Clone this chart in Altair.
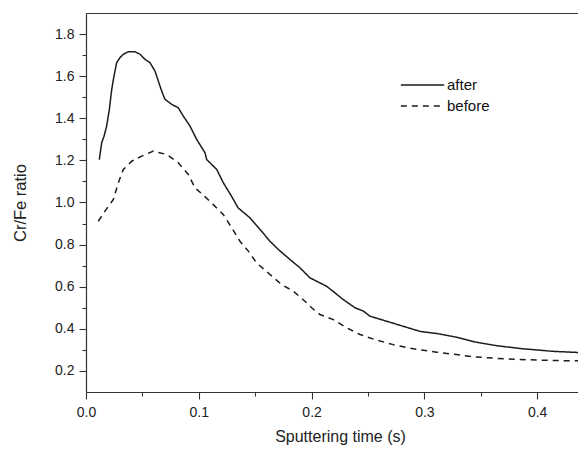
import altair as alt
import pandas as pd

# "after" curve (Cr/Fe ratio vs sputtering time)
after_x = [0.0118, 0.0139, 0.0160, 0.0183, 0.0207, 0.0228, 0.0248, 0.0272, 0.0301, 0.0331,
           0.0375, 0.0434, 0.0479, 0.0523, 0.0567, 0.0612, 0.0641, 0.0671, 0.0700, 0.0760,
           0.0818, 0.0863, 0.0922, 0.0981, 0.1055, 0.1070, 0.1159, 0.1217, 0.1290, 0.1348,
           0.1454, 0.1543, 0.1631, 0.1705, 0.1809, 0.1897, 0.1986, 0.2045, 0.2134, 0.2207,
           0.2281, 0.2385, 0.2459, 0.2518, 0.2666, 0.2813, 0.2961, 0.3120, 0.3286, 0.3464,
           0.3640, 0.3877, 0.4143, 0.4430]
after_y = [1.204, 1.284, 1.315, 1.363, 1.442, 1.537, 1.600, 1.664, 1.688, 1.704,
           1.716, 1.716, 1.704, 1.680, 1.664, 1.624, 1.577, 1.529, 1.490, 1.466,
           1.450, 1.410, 1.363, 1.300, 1.236, 1.204, 1.157, 1.094, 1.030, 0.975,
           0.927, 0.872, 0.816, 0.777, 0.729, 0.690, 0.642, 0.626, 0.602, 0.571,
           0.539, 0.500, 0.484, 0.460, 0.436, 0.412, 0.388, 0.377, 0.360, 0.336,
           0.320, 0.305, 0.293, 0.286]

# "before" curve
before_x = [0.0109, 0.0168, 0.0242, 0.0287, 0.0331, 0.0405, 0.0494, 0.0597, 0.0715, 0.0818,
            0.0907, 0.0966, 0.1040, 0.1129, 0.1217, 0.1292, 0.1365, 0.1439, 0.1513, 0.1631,
            0.1735, 0.1838, 0.1941, 0.2001, 0.2074, 0.2193, 0.2311, 0.2429, 0.2562, 0.2724,
            0.2902, 0.3109, 0.3286, 0.3434, 0.3730, 0.4025, 0.4320, 0.4430]
before_y = [0.911, 0.959, 1.014, 1.094, 1.157, 1.196, 1.220, 1.244, 1.228, 1.189,
            1.133, 1.070, 1.035, 0.990, 0.943, 0.880, 0.816, 0.769, 0.713, 0.658,
            0.610, 0.579, 0.531, 0.500, 0.468, 0.444, 0.405, 0.373, 0.349, 0.325,
            0.305, 0.289, 0.278, 0.267, 0.257, 0.251, 0.248, 0.250]

series_names = ["after", "before"]
x_ticks = [0.0, 0.05, 0.1, 0.15, 0.2, 0.25, 0.3, 0.35, 0.4]
y_ticks = [0.2, 0.3, 0.4, 0.5, 0.6, 0.7, 0.8, 0.9, 1.0, 1.1, 1.2, 1.3, 1.4, 1.5, 1.6, 1.7, 1.8]

df = pd.concat([
    pd.DataFrame({"t": after_x, "r": after_y, "series": series_names[0]}),
    pd.DataFrame({"t": before_x, "r": before_y, "series": series_names[1]}),
], ignore_index=True)

INK = "#1c1c1c"
AX = "#333333"

x_scale = alt.Scale(domain=[0.0, 0.4362], nice=False, zero=False)
y_scale = alt.Scale(domain=[0.1, 1.9], nice=False, zero=False)

lines = alt.Chart(df).mark_line(color=INK, strokeWidth=1.5, clip=True).encode(
    x=alt.X("t:Q", scale=x_scale,
            axis=alt.Axis(values=x_ticks,
                          labelExpr="round(datum.value*100) % 10 == 0 ? format(datum.value, '.1f') : ''",
                          tickSize={"condition": {"test": "round(datum.value*100) % 10 == 0", "value": 7}, "value": 4},
                          labelPadding=6, labelFontSize=14, labelFlush=False,
                          title="Sputtering time (s)", titleFontSize=16,
                          titleFontWeight="normal", titlePadding=9, titleX=254,
                          grid=False, orient="bottom")),
    y=alt.Y("r:Q", scale=y_scale,
            axis=alt.Axis(values=y_ticks,
                          labelExpr="round(datum.value*10) % 2 == 0 ? format(datum.value, '.1f') : ''",
                          tickSize={"condition": {"test": "round(datum.value*10) % 2 == 0", "value": 7}, "value": 4},
                          labelPadding=5, labelFontSize=14, labelFlush=False,
                          title="Cr/Fe ratio", titleFontSize=16.5,
                          titleFontWeight="normal", titlePadding=26,
                          grid=False, orient="left")),
    strokeDash=alt.StrokeDash("series:N",
                              scale=alt.Scale(domain=series_names, range=[[1, 0], [6, 5]]),
                              legend=alt.Legend(title=None, orient="none", legendX=314, legendY=63,
                                                symbolType="stroke", symbolSize=1876,
                                                symbolStrokeWidth=1.5, symbolStrokeColor=INK,
                                                labelFontSize=15, labelOffset=2, padding=0,
                                                clipHeight=18, rowPadding=3)),
)

top_axis = alt.Chart(df).mark_point(opacity=0).encode(
    x=alt.X("t:Q", scale=x_scale,
            axis=alt.Axis(orient="top", ticks=False, labels=False, domain=True,
                          title=None, grid=False)),
    y=alt.Y("r:Q", scale=y_scale, axis=None),
)

chart = alt.layer(lines, top_axis).resolve_axis(x="independent", y="independent").properties(
    width=492, height=379, autosize="none",
    padding={"left": 78, "top": 5, "right": 0, "bottom": 54},
).configure(font="Liberation Sans").configure_view(stroke=None).configure_axis(
    domainColor=AX, domainWidth=1.2, tickColor=AX, tickWidth=1.1,
    labelColor="#222222", titleColor="#222222",
    labelFont="Liberation Sans", titleFont="Liberation Sans",
).configure_legend(labelColor="#111111", labelFont="Liberation Sans")

chart.save("out.html", embed_options={"renderer": "svg", "actions": False})
